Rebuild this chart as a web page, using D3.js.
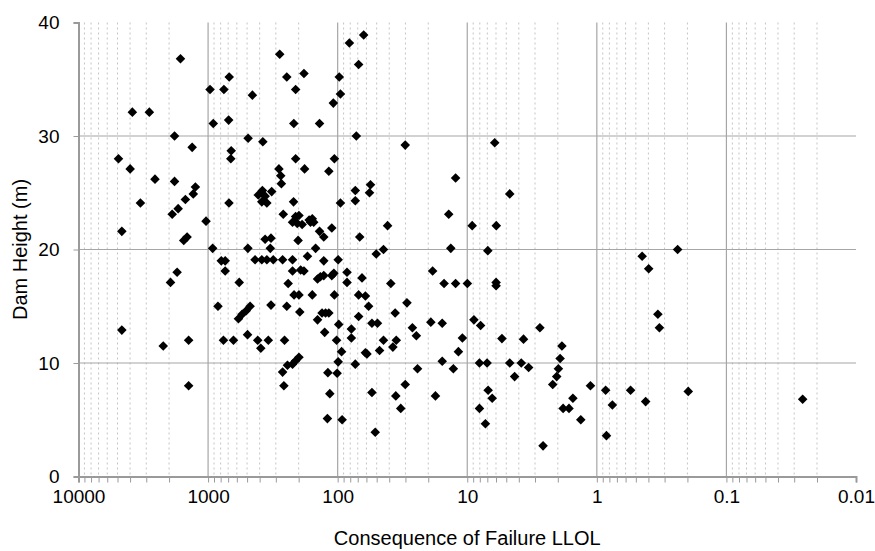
<!DOCTYPE html>
<html>
<head>
<meta charset="utf-8">
<script src="https://cdn.jsdelivr.net/npm/d3@7"></script>
<style>
  body { margin: 0; background: #fff; }
  svg { display: block; font-family: "Liberation Sans", Arial, sans-serif; }
</style>
</head>
<body>
<svg id="chart" width="875" height="551"></svg>
<script>
// Consequence of failure (LLOL) and dam height (m), one entry per dam
const llol = [
  1633, 687, 966, 755, 455, 3840, 2840, 912, 694, 1815,
  1327, 491, 378, 4915, 3994, 663, 668, 63, 81.2, 280,
  68.9, 247, 182, 97.2, 211, 95.2, 108, 218, 138, 71.8,
  30.1, 211, 106, 284, 180, 117, 12.3, 6.14, 2569, 1815,
  1253, 1301, 1497, 3329, 1702, 1892, 690, 1037, 4630, 1452,
  1541, 410, 381, 363, 385, 352, 323, 922, 493, 363,
  327, 331, 791, 738, 434, 385, 352, 314, 738, 1734,
  1950, 575, 839, 583, 546, 508, 474, 327, 4630, 275,
  272, 219, 73.1, 55.8, 56.8, 73.1, 95.2, 263, 211, 199,
  223, 205, 188, 166, 157, 153, 162, 138, 128, 111,
  202, 67.6, 41.2, 13.9, 9.16, 13.4, 44.3, 50.4, 148, 266,
  223, 171, 128, 99.1, 223, 193, 182, 136, 128, 143,
  107, 111, 84.7, 84.7, 64.9, 241, 38.9, 18.5, 15.1, 12.3,
  9.98, 217, 199, 157, 106, 68.9, 61.1, 247, 196, 132,
  124, 117, 57.7, 29.2, 36, 68.9, 143, 54.4, 49.3, 98.1,
  26.5, 19.1, 15.6, 4.7, 5.97, 6.94, 5.99, 5.99, 0.447, 0.398,
  0.338, 0.329, 8.88, 7.89, 2.75, 0.238, 2219, 1413, 1413, 761,
  637, 496, 414, 343, 392, 257, 244, 266, 260, 223,
  211, 199, 126, 102, 93.3, 78.4, 78.4, 99.1, 119, 101,
  115, 120, 92.4, 73.1, 61.1, 59.4, 47.5, 44.3, 37.5, 35.3,
  54.4, 51.3, 35.6, 32.6, 30.1, 24.7, 24.2, 17.6, 15.6, 12.8,
  11.7, 10.9, 5.4, 3.68, 1.86, 1.92, 1.98, 2.04, 2.19, 8.05,
  7.03, 4.7, 3.83, 3.36, 4.31, 6.9, 6.42, 8.05, 7.24, 2.6,
  1.82, 1.64, 1.53, 1.33, 1.12, 0.855, 0.759, 0.843, 0.549, 0.42,
  0.197, 0.0258
];
const damHeight = [
  36.8, 35.2, 34.1, 34.1, 33.6, 32.1, 32.1, 31.1, 31.4, 30.0,
  29.0, 29.8, 29.5, 28.0, 27.1, 28.7, 28.0, 38.9, 38.2, 37.2,
  36.3, 35.2, 35.5, 35.2, 34.1, 33.7, 32.9, 31.1, 31.1, 30.0,
  29.2, 28.0, 28.0, 27.1, 27.1, 26.9, 26.3, 29.4, 26.2, 26.0,
  25.5, 24.9, 24.4, 24.1, 23.6, 23.1, 24.1, 22.5, 21.6, 21.1,
  20.8, 24.8, 25.2, 24.7, 24.2, 24.1, 25.1, 20.1, 20.1, 20.9,
  21.0, 20.1, 19.0, 19.0, 19.1, 19.1, 19.1, 19.1, 18.1, 18.0,
  17.1, 17.1, 15.0, 13.9, 14.3, 14.6, 15.0, 15.1, 12.9, 26.5,
  25.8, 24.2, 25.2, 25.7, 25.0, 24.3, 24.1, 23.1, 22.9, 23.0,
  22.4, 22.3, 22.2, 22.6, 22.7, 22.4, 22.4, 21.6, 21.1, 21.9,
  20.8, 21.1, 22.1, 23.1, 22.1, 20.1, 20.0, 19.6, 20.1, 19.1,
  19.1, 19.4, 19.0, 19.1, 18.1, 18.2, 18.1, 17.6, 17.7, 17.4,
  17.9, 17.7, 18.0, 17.1, 17.5, 17.0, 17.0, 18.1, 17.0, 17.0,
  17.0, 16.0, 16.0, 16.0, 16.0, 16.0, 15.9, 15.0, 14.5, 14.4,
  14.4, 14.4, 15.0, 15.3, 14.4, 14.1, 13.8, 13.5, 13.5, 13.4,
  13.1, 13.6, 13.5, 24.9, 22.1, 19.9, 16.8, 17.1, 19.4, 18.3,
  14.3, 13.1, 13.8, 13.3, 13.1, 20.0, 11.5, 12.0, 8.0, 12.0,
  12.0, 12.5, 12.0, 12.0, 11.3, 12.0, 9.8, 9.2, 8.0, 9.9,
  10.2, 10.5, 12.7, 12.0, 11.0, 13.0, 12.2, 10.1, 9.15, 9.1,
  7.3, 5.1, 5.0, 9.9, 10.9, 10.8, 11.1, 12.0, 11.4, 12.0,
  7.4, 3.9, 7.1, 6.0, 8.1, 12.4, 9.5, 7.1, 10.15, 9.5,
  11.0, 12.2, 12.15, 12.1, 11.5, 10.4, 9.5, 8.8, 8.1, 10.0,
  10.0, 10.0, 10.0, 9.6, 8.8, 7.6, 6.9, 6.0, 4.65, 2.7,
  6.0, 6.0, 6.9, 5.0, 8.0, 7.6, 6.3, 3.6, 7.6, 6.6,
  7.5, 6.8
];

const xTickValues = [10000, 1000, 100, 10, 1, 0.1, 0.01];
const xTickLabels = ["10000", "1000", "100", "10", "1", "0.1", "0.01"];
const yTickValues = [0, 10, 20, 30, 40];

const points = llol.map((v, i) => ({ llol: v, h: damHeight[i] }));

const svg = d3.select('#chart');
const plot = { left: 78.5, right: 856, top: 22.5, bottom: 476.5 };

const x = d3.scaleLog().domain([10000, 0.01]).range([plot.left, plot.right]);
const y = d3.scaleLinear().domain([0, 40]).range([plot.bottom, plot.top]);

const isMajor = v => xTickValues.some(t => Math.abs(Math.log10(v) - Math.log10(t)) < 1e-6);
const minorTicks = x.ticks().filter(v => !isMajor(v));

// ── Grid ──────────────────────────────────────────────────
const grid = svg.append('g').attr('class', 'grid');

grid.selectAll('.minor')
  .data(minorTicks)
  .join('line')
  .attr('class', 'minor')
  .attr('x1', d => x(d)).attr('x2', d => x(d))
  .attr('y1', plot.top).attr('y2', plot.bottom)
  .attr('stroke', '#c4c4c4')
  .attr('stroke-width', 1)
  .attr('stroke-dasharray', '2,3');

grid.selectAll('.major-x')
  .data(xTickValues.slice(1, -1))
  .join('line')
  .attr('class', 'major-x')
  .attr('x1', d => x(d)).attr('x2', d => x(d))
  .attr('y1', plot.top).attr('y2', plot.bottom)
  .attr('stroke', '#a6a6a6')
  .attr('stroke-width', 1.2);

grid.selectAll('.major-y')
  .data(yTickValues.slice(1, -1))
  .join('line')
  .attr('class', 'major-y')
  .attr('x1', plot.left).attr('x2', plot.right)
  .attr('y1', d => y(d)).attr('y2', d => y(d))
  .attr('stroke', '#a6a6a6')
  .attr('stroke-width', 1.2);

// ── Axes ──────────────────────────────────────────────────
const xAxis = d3.axisBottom(x)
  .tickValues(x.ticks())
  .tickSize(6)
  .tickPadding(7)
  .tickFormat(d => {
    const i = xTickValues.findIndex(t => Math.abs(Math.log10(d) - Math.log10(t)) < 1e-6);
    return i >= 0 ? xTickLabels[i] : '';
  });

const gx = svg.append('g')
  .attr('transform', `translate(0,${plot.bottom})`)
  .call(xAxis);
gx.select('.domain').attr('stroke', '#9a9a9a').attr('stroke-width', 2);
gx.selectAll('.tick line').attr('stroke', '#9a9a9a');
gx.selectAll('.tick text')
  .attr('font-family', '"Liberation Sans", Arial, sans-serif')
  .attr('font-size', 19)
  .attr('fill', '#000');

const yAxis = d3.axisLeft(y)
  .tickValues(yTickValues)
  .tickSize(5)
  .tickPadding(14)
  .tickFormat(d3.format('d'));

const gy = svg.append('g')
  .attr('transform', `translate(${plot.left},0)`)
  .call(yAxis);
gy.select('.domain').attr('stroke', '#9a9a9a').attr('stroke-width', 2);
gy.selectAll('.tick line').attr('stroke', '#9a9a9a');
gy.selectAll('.tick text')
  .attr('font-family', '"Liberation Sans", Arial, sans-serif')
  .attr('font-size', 19)
  .attr('fill', '#000');

// ── Titles ────────────────────────────────────────────────
svg.append('text')
  .attr('x', (plot.left + plot.right) / 2)
  .attr('y', 545)
  .attr('text-anchor', 'middle')
  .attr('font-size', 20)
  .attr('fill', '#000')
  .text('Consequence of Failure LLOL');

svg.append('text')
  .attr('transform', `translate(27,${(plot.top + plot.bottom) / 2}) rotate(-90)`)
  .attr('text-anchor', 'middle')
  .attr('font-size', 20)
  .attr('fill', '#000')
  .text('Dam Height (m)');

// ── Points ────────────────────────────────────────────────
const diamond = d3.symbol().type(d3.symbolSquare).size(46);

svg.append('g').attr('class', 'points')
  .selectAll('path')
  .data(points)
  .join('path')
  .attr('d', diamond)
  .attr('transform', d => `translate(${x(d.llol)},${y(d.h)}) rotate(45)`)
  .attr('fill', '#000');
</script>
</body>
</html>
